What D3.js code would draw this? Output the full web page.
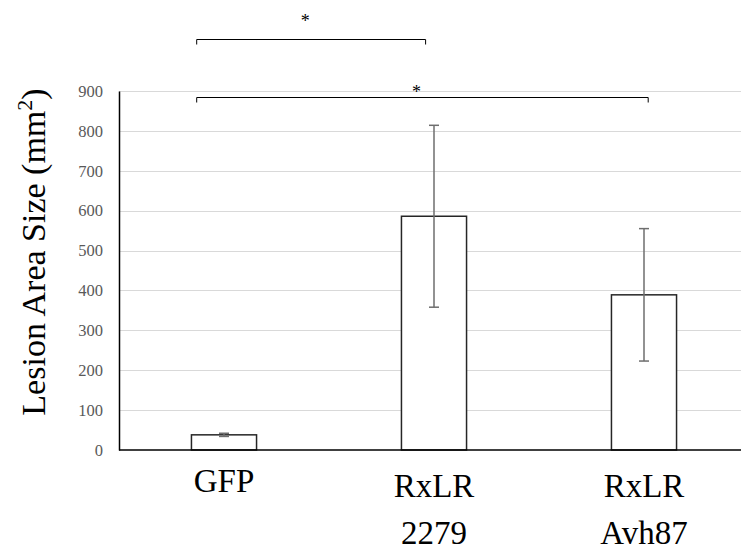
<!DOCTYPE html>
<html>
<head>
<meta charset="utf-8">
<script src="https://cdn.jsdelivr.net/npm/d3@7"></script>
<style>
  html, body { margin: 0; padding: 0; background: #fff; }
  svg { display: block; }
</style>
</head>
<body>
<svg id="chart" width="741" height="555"></svg>
<script>
const categories = [["GFP"], ["RxLR", "2279"], ["RxLR", "Avh87"]];
const values = [38, 586, 389];
const errors = [4, 228, 166];
const yTicks = [0, 100, 200, 300, 400, 500, 600, 700, 800, 900];
const brackets = [
  { from: -0.13, to: 0.96, level: 1030, label: "*" },
  { from: -0.13, to: 2.02, level: 885, label: "*" }
];

(function () {
const svg = d3.select("#chart");
const mLeft = 119, mRight = 749, mTop = 91, mBottom = 450;
const font = "'Liberation Serif', 'Times New Roman', serif";

const keys = categories.map((c, i) => i);
const x = d3.scaleBand().domain(keys).range([mLeft, mRight]).paddingInner(0.69).paddingOuter(0.345);
const xi = d3.scaleLinear().domain([0, 1]).range([x(0) + x.bandwidth() / 2, x(1) + x.bandwidth() / 2]);
const y = d3.scaleLinear().domain([0, 900]).range([mBottom, mTop]);

// gridlines
svg.append("g").selectAll("line").data(yTicks.filter(d => d > 0)).join("line")
  .attr("x1", mLeft).attr("x2", mRight)
  .attr("y1", d => Math.round(y(d)) + 0.5).attr("y2", d => Math.round(y(d)) + 0.5)
  .attr("stroke", "#d9d9d9").attr("stroke-width", 1);

// y axis
const yAxis = d3.axisLeft(y).tickValues(yTicks).tickSize(0).tickPadding(16);
const gy = svg.append("g").attr("transform", `translate(${mLeft},0)`).call(yAxis);
gy.select(".domain").attr("stroke", "#000").attr("stroke-width", 1.5);
gy.selectAll("text").attr("font-family", font).attr("font-size", 16.5).attr("fill", "#595959");

// bars
svg.append("g").selectAll("rect").data(values).join("rect")
  .attr("x", (d, i) => x(i)).attr("width", x.bandwidth())
  .attr("y", d => y(d)).attr("height", d => y(0) - y(d))
  .attr("fill", "#fff").attr("stroke", "#262626").attr("stroke-width", 1.5);

// error bars
const eg = svg.append("g").attr("stroke", "#6e6e6e").attr("stroke-width", 1.5);
values.forEach((v, i) => {
  const cx = x(i) + x.bandwidth() / 2;
  eg.append("line").attr("x1", cx).attr("x2", cx).attr("y1", y(v + errors[i])).attr("y2", y(v - errors[i]));
  eg.append("line").attr("x1", cx - 5).attr("x2", cx + 5).attr("y1", y(v + errors[i])).attr("y2", y(v + errors[i]));
  eg.append("line").attr("x1", cx - 5).attr("x2", cx + 5).attr("y1", y(v - errors[i])).attr("y2", y(v - errors[i]));
});

// x axis baseline
svg.append("line").attr("x1", mLeft).attr("x2", 741)
  .attr("y1", mBottom).attr("y2", mBottom).attr("stroke", "#000").attr("stroke-width", 1.5);

// category labels
const cl = svg.append("g");
categories.forEach((c, i) => {
  const cx = x(i) + x.bandwidth() / 2;
  const t = cl.append("text").attr("x", cx).attr("y", c.length === 1 ? 492 : 497)
    .attr("text-anchor", "middle").attr("font-family", font).attr("font-size", 33).attr("fill", "#000");
  c.forEach((line, j) => {
    t.append("tspan").attr("x", cx).attr("dy", j === 0 ? 0 : 47).text(line);
  });
});

// y label
const yl = svg.append("text")
  .attr("transform", `translate(45,252) rotate(-90)`)
  .attr("text-anchor", "middle").attr("font-family", font).attr("font-size", 34).attr("fill", "#000");
yl.append("tspan").text("Lesion Area Size (mm");
yl.append("tspan").attr("font-size", 22).attr("dy", -13).text("2");
yl.append("tspan").attr("dy", 13).text(")");

// brackets
const bg = svg.append("g");
brackets.forEach(b => {
  const x1 = xi(b.from), x2 = xi(b.to), yy = Math.round(y(b.level)) + 0.5;
  bg.append("path").attr("d", `M${x1},${yy + 5}V${yy}H${x2}V${yy + 5}`)
    .attr("fill", "none").attr("stroke", "#000").attr("stroke-width", 1);
  bg.append("text").attr("x", (x1 + x2) / 2 - 6).attr("y", yy - (b.level > 950 ? 13 : 0))
    .attr("text-anchor", "middle").attr("font-family", font).attr("font-size", 18).attr("fill", "#000")
    .text(b.label);
});
})();
</script>
</body>
</html>
